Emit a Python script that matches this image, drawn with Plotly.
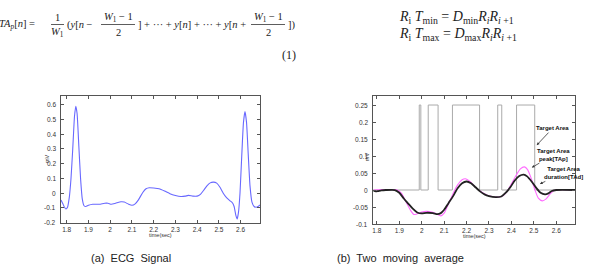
import plotly.graph_objects as go

# ---------------- data ----------------
ecg_t = [1.774, 1.782, 1.790, 1.797, 1.804, 1.812, 1.820, 1.828, 1.836, 1.842, 1.848, 1.856,
         1.864, 1.872, 1.880, 1.888, 1.900, 1.920, 1.950, 1.975, 1.990, 2.005, 2.025, 2.050,
         2.065, 2.085, 2.100, 2.115, 2.130, 2.150, 2.165, 2.180, 2.200, 2.225, 2.250, 2.275,
         2.300, 2.325, 2.345, 2.360, 2.380, 2.400, 2.415, 2.430, 2.445, 2.460, 2.475, 2.490,
         2.505, 2.520, 2.535, 2.550, 2.562, 2.570, 2.578, 2.584, 2.590, 2.597, 2.605, 2.613,
         2.620, 2.627, 2.635, 2.643, 2.652, 2.662, 2.672, 2.682, 2.690]
ecg_mv = [-0.046, -0.070, -0.095, -0.107, -0.095, -0.030, 0.100, 0.300, 0.520, 0.590, 0.540, 0.320,
          0.100, -0.040, -0.085, -0.090, -0.082, -0.075, -0.075, -0.068, -0.068, -0.075, -0.068, -0.058,
          -0.060, -0.075, -0.082, -0.072, -0.045, 0.005, 0.030, 0.037, 0.035, 0.030, 0.015, -0.003,
          -0.015, -0.022, -0.020, -0.015, -0.020, -0.020, -0.008, 0.020, 0.050, 0.070, 0.075, 0.068,
          0.040, 0.000, -0.030, -0.050, -0.065, -0.090, -0.150, -0.175, -0.130, 0.000, 0.250, 0.480,
          0.553, 0.480, 0.260, 0.050, -0.060, -0.090, -0.095, -0.088, -0.080]

gate_t = [1.784, 1.989, 1.996, 2.029, 2.073, 2.137, 2.258, 2.339, 2.357, 2.423, 2.504, 2.685]
gate_v = [0, 0.25, 0, 0.25, 0, 0.25, 0, 0.25, 0, 0.25, 0, 0]

ma1_t = [1.784, 1.890, 1.910, 1.930, 1.950, 1.965, 1.980, 2.000, 2.020, 2.045, 2.065, 2.085,
         2.100, 2.120, 2.140, 2.160, 2.180, 2.195, 2.215, 2.240, 2.265, 2.290, 2.320, 2.340,
         2.360, 2.380, 2.400, 2.420, 2.440, 2.458, 2.472, 2.488, 2.505, 2.520, 2.538, 2.555,
         2.575, 2.595, 2.685]
ma1_v = [0.000, 0.000, -0.010, -0.035, -0.060, -0.072, -0.070, -0.065, -0.063, -0.065, -0.070, -0.076,
         -0.068, -0.040, -0.010, 0.015, 0.030, 0.033, 0.025, 0.008, -0.005, -0.015, -0.020, -0.021,
         -0.018, -0.005, 0.018, 0.042, 0.062, 0.068, 0.060, 0.035, 0.000, -0.024, -0.032, -0.026,
         -0.010, 0.000, 0.000]

ma2_t = [1.784, 1.795, 1.805, 1.820, 1.840, 1.880, 1.900, 1.920, 1.940, 1.960, 1.980, 2.000,
         2.020, 2.050, 2.070, 2.085, 2.100, 2.120, 2.140, 2.160, 2.180, 2.200, 2.220, 2.240,
         2.260, 2.280, 2.300, 2.330, 2.355, 2.375, 2.395, 2.415, 2.435, 2.455, 2.470, 2.490,
         2.510, 2.530, 2.550, 2.565, 2.580, 2.600, 2.685]
ma2_v = [-0.002, -0.004, -0.003, -0.001, 0.000, 0.000, -0.008, -0.025, -0.040, -0.055, -0.066, -0.069,
         -0.067, -0.068, -0.071, -0.068, -0.058, -0.038, -0.018, 0.005, 0.020, 0.025, 0.020, 0.008,
         -0.004, -0.013, -0.018, -0.021, -0.019, -0.008, 0.008, 0.028, 0.041, 0.045, 0.040, 0.025,
         0.007, -0.008, -0.013, -0.010, -0.003, 0.000, 0.000]

x_ticks = [1.8, 1.9, 2.0, 2.1, 2.2, 2.3, 2.4, 2.5, 2.6]
x_ticktext = ["1.8", "1.9", "2", "2.1", "2.2", "2.3", "2.4", "2.5", "2.6"]
y1_ticks = [-0.2, -0.1, 0, 0.1, 0.2, 0.3, 0.4, 0.5, 0.6]
y1_ticktext = ["-0.2", "-0.1", "0", "0.1", "0.2", "0.3", "0.4", "0.5", "0.6"]
y2_ticks = [-0.1, -0.05, 0, 0.05, 0.1, 0.15, 0.2, 0.25]
y2_ticktext = ["-0.1", "-0.05", "0", "0.05", "0.1", "0.15", "0.2", "0.25"]

# ---------------- figure ----------------
W, H = 609, 268
def X(px): return px / W
def Y(py): return 1 - py / H

fig = go.Figure()
fig.add_trace(go.Scatter(x=ecg_t, y=ecg_mv, mode='lines', xaxis='x', yaxis='y',
                         line=dict(color='#6868ff', width=1.1, shape='spline', smoothing=0.5),
                         hoverinfo='skip'))
fig.add_trace(go.Scatter(x=gate_t, y=gate_v, mode='lines', xaxis='x2', yaxis='y2',
                         line=dict(color='#aaaaaa', width=1, shape='hv'), hoverinfo='skip'))
fig.add_trace(go.Scatter(x=ma1_t, y=ma1_v, mode='lines', xaxis='x2', yaxis='y2',
                         line=dict(color='#ff6cff', width=1.1, shape='spline', smoothing=0.6),
                         hoverinfo='skip'))
fig.add_trace(go.Scatter(x=ma2_t, y=ma2_v, mode='lines', xaxis='x2', yaxis='y2',
                         line=dict(color='#222222', width=1.8, shape='spline', smoothing=0.6),
                         hoverinfo='skip'))

TICKFONT = dict(family='Liberation Sans, Arial', size=6.5, color='#333')
axc = dict(showline=True, linecolor='#555', linewidth=1, mirror='ticks', ticks='inside',
           ticklen=3, tickcolor='#555', tickwidth=1, showgrid=False, zeroline=False,
           tickfont=TICKFONT, tickmode='array', fixedrange=True,
           ticklabeloverflow='allow', automargin=False)

fig.update_layout(
    width=W, height=H, margin=dict(l=0, r=0, t=0, b=0, autoexpand=False),
    paper_bgcolor='white', plot_bgcolor='white', showlegend=False,
    xaxis=dict(axc, domain=[X(61), X(260)], range=[1.774, 2.689], anchor='y',
               tickvals=x_ticks, ticktext=x_ticktext),
    yaxis=dict(axc, domain=[Y(222.7), Y(96)], range=[-0.2, 0.659], anchor='x',
               tickvals=y1_ticks, showticklabels=False),
    xaxis2=dict(axc, domain=[X(373.3), X(575.3)], range=[1.784, 2.685], anchor='y2',
                tickvals=x_ticks, ticktext=x_ticktext),
    yaxis2=dict(axc, domain=[Y(224), Y(95.5)], range=[-0.1, 0.278], anchor='x2',
                tickvals=y2_ticks, showticklabels=False),
)

anns = []
shapes = []
SERIF = 'Liberation Serif, Times New Roman, serif'
SANS = 'Liberation Sans, Arial, sans-serif'

# y tick labels, placed on the library's y scales
for v, t in zip(y1_ticks, y1_ticktext):
    anns.append(dict(text=t, x=X(58), y=v, xref='paper', yref='y', xanchor='right',
                     yanchor='middle', showarrow=False, font=TICKFONT))
for v, t in zip(y2_ticks, y2_ticktext):
    anns.append(dict(text=t, x=X(370.3), y=v, xref='paper', yref='y2', xanchor='right',
                     yanchor='middle', showarrow=False, font=TICKFONT))

def txt(text, px, py, size=10.5, xanchor='center', family=SERIF, color='#222', angle=0):
    anns.append(dict(text=text, x=X(px), y=Y(py), xref='paper', yref='paper',
                     xanchor=xanchor, yanchor='middle', showarrow=False, textangle=angle,
                     font=dict(family=family, size=size, color=color)))

def frac(num, den, cx, x0, x1, size=10.5):
    txt(num, cx, 17, size)
    txt(den, cx, 32, size)
    shapes.append(dict(type='line', xref='paper', yref='paper', x0=X(x0), x1=X(x1),
                       y0=Y(24.5), y1=Y(24.5), line=dict(color='#333', width=0.8)))

# equation (1)
txt("<i>TA</i><sub><i>p</i></sub>[<i>n</i>] =", -3, 25, xanchor='left')
frac("1", "<i>W</i><sub>1</sub>", 57, 51, 64)
txt("(<i>y</i>[<i>n</i> −", 65, 25, xanchor='left')
frac("<i>W</i><sub>1</sub> − 1", "2", 118, 101, 135)
txt("]&nbsp;+&nbsp;···&nbsp;+&nbsp;<i>y</i>[<i>n</i>]&nbsp;+&nbsp;···&nbsp;+&nbsp;<i>y</i>[<i>n</i>&nbsp;+", 136, 25, xanchor='left')
frac("<i>W</i><sub>1</sub> − 1", "2", 268, 251, 285)
txt("])", 286, 25, xanchor='left')
txt("(1)", 298, 55, size=12, xanchor='right')

# equations R_i T
txt("<i>R</i><sub>i</sub>&nbsp;<i>T</i><sub>min</sub> = <i>D</i><sub>min</sub><i>R</i><sub><i>i</i></sub><i>R</i><sub><i>i</i> +1</sub>",
    397, 17, size=14, xanchor='left')
txt("<i>R</i><sub>i</sub>&nbsp;<i>T</i><sub>max</sub> = <i>D</i><sub>max</sub><i>R</i><sub><i>i</i></sub><i>R</i><sub><i>i</i> +1</sub>",
    397, 34, size=14, xanchor='left')

# axis labels
txt("time(sec)", 160.5, 234.5, size=5.5, family=SANS, color='#333')
txt("time(sec)", 474.3, 235.5, size=5.5, family=SANS, color='#333')
txt("mV", 47.7, 158.3, size=5.5, family=SANS, color='#333', angle=-90)
txt("mV", 366.5, 156.7, size=5.5, family=SANS, color='#333', angle=-90)

# captions
txt("(a)&nbsp; ECG&nbsp; Signal", 131, 258, size=11, family=SANS, color='#222')
txt("(b)&nbsp; Two&nbsp; moving&nbsp; average", 400.5, 258, size=11, family=SANS, color='#222')

# callouts on right plot
def callout(text, x, y, ax, ay):
    anns.append(dict(text=text, x=x, y=y, xref='x2', yref='y2', ax=ax, ay=ay,
                     showarrow=True, arrowhead=2, arrowsize=0.7, arrowwidth=0.8,
                     arrowcolor='#333', xanchor='center', yanchor='middle', align='center',
                     font=dict(family=SANS, size=6, color='#111')))

callout("<b>Target Area</b>", 2.513, 0.132, 16, -17)
callout("<b>Target Area<br>peak[TAp]</b>", 2.491, 0.066, 22, -13)
callout("<b>Target Area<br>duration[TAd]</b>", 2.527, 0.018, 24, -11)

fig.update_layout(annotations=anns, shapes=shapes)
fig.write_html("out.html", config=dict(displayModeBar=False))
